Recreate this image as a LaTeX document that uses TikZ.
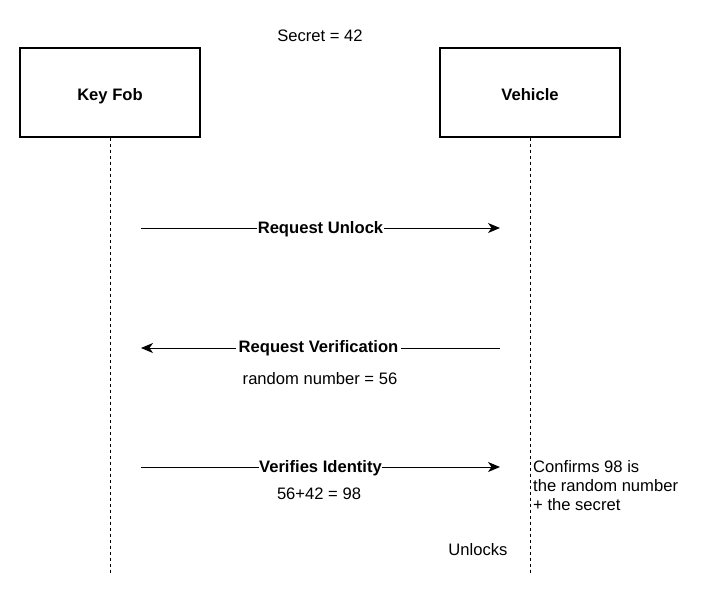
\documentclass[tikz,border=0pt]{standalone}
\usepackage{fontspec}
\setmainfont{Liberation Sans}
\usetikzlibrary{arrows.meta}

\begin{document}
\begin{tikzpicture}[x=1pt,y=-1pt,font=\fontsize{16.6}{19}\selectfont,
  actor/.style={draw,line width=1.1pt,minimum width=180pt,minimum height=89pt,text height=15pt,text depth=0pt,font=\fontsize{16.6}{19}\selectfont\bfseries},
  life/.style={line width=0.8pt,dash pattern=on 3pt off 3pt},
  msg/.style={-{Stealth[length=12pt,width=10pt,inset=3.5pt]},line width=1pt},
  lbl/.style={fill=white,inner sep=0.5pt,font=\fontsize{16.6}{19}\selectfont\bfseries}]
\useasboundingbox (0,0) rectangle (717,595);

\node (secret) at (320,36) {Secret = 42};
\node[actor] (fob) at (110,92.5) {Key Fob};
\node[actor] (car) at (530,92.5) {Vehicle};

% lifelines
\coordinate (fobend) at (110,573);
\coordinate (carend) at (530,573);
\draw[life] (fob.south) -- (fobend);
\draw[life] (car.south) -- (carend);

% messages
\coordinate (f1) at (141,228);
\coordinate (c1) at (500,228);
\coordinate (f2) at (141,348);
\coordinate (c2) at (500,348);
\coordinate (f3) at (141,467);
\coordinate (c3) at (500,467);

\draw[msg] (f1) -- node[lbl,yshift=-1pt] (unlock) {Request Unlock} (c1);
\draw[msg] (c2) -- node[lbl,inner xsep=3pt,xshift=-2pt] (verif) {Request Verification} (f2);
\draw[msg] (f3) -- node[lbl,yshift=-1pt] (ident) {Verifies Identity} (c3);

\node (rnd) at (320,379) {random number = 56};
\node (sum) at (319,494) {56+42 = 98};
\node[anchor=north west,align=left,inner sep=0pt] (confirm) at (533,460) {Confirms 98 is\\the random number\\+ the secret};
\node (unlocks) at (478,550) {Unlocks};

\end{tikzpicture}
\end{document}
